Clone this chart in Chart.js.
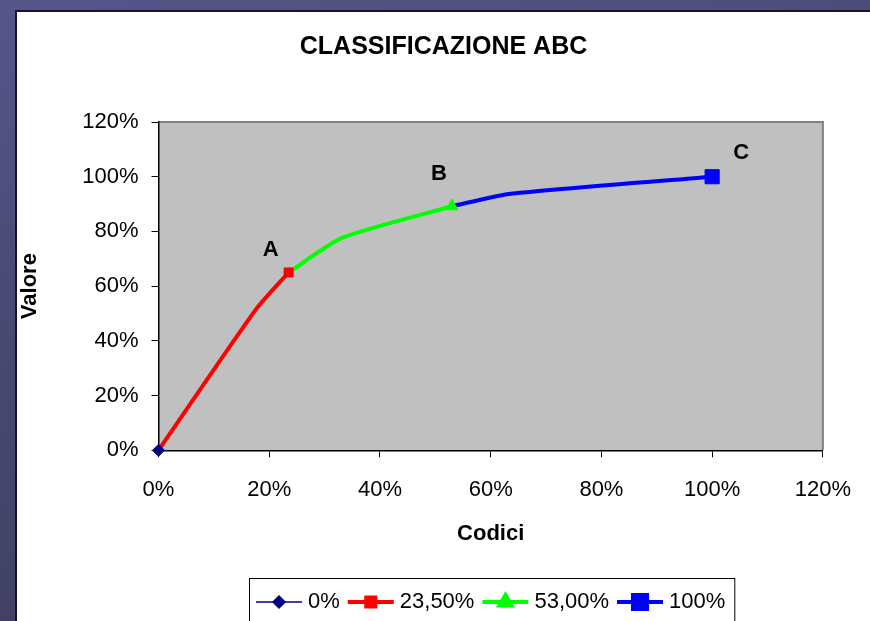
<!DOCTYPE html>
<html>
<head>
<meta charset="utf-8">
<script src="https://cdn.jsdelivr.net/npm/chart.js@4/dist/chart.umd.min.js"></script>
<style>
body { margin:0; width:870px; height:621px; overflow:hidden;
  background: linear-gradient(165deg, #56558a 0%, #48476f 45%, #3b3a5b 100%); }
#panel { position:absolute; left:15px; top:10px; width:853px; height:609px;
  border-left:2px solid #15152a; border-top:2px solid #15152a; background:#fff; }
</style>
</head>
<body>
<div id="panel"><canvas id="chart" width="853" height="609"></canvas></div>
<script>
const FONT = '"Liberation Sans", Arial, sans-serif'

const titolo = 'CLASSIFICAZIONE ABC'
const serie = ['0%', '23,50%', '53,00%', '100%']
const colori = ['#000080', '#ff0000', '#00ff00', '#0000ff']
const classi = ['A', 'B', 'C']

// codici (% cumulata) e valore (% cumulato) per ogni tratto della curva
const codici0 = [0]
const valore0 = [0]
const codiciA = [0, 17.6, 23.5]
const valoreA = [0, 51.5, 65]
const codiciB = [23.5, 33.2, 53]
const valoreB = [65, 77.7, 89.2]
const codiciC = [53, 63.3, 100]
const valoreC = [89.2, 93.7, 100]

const assiMin = 0
const assiMax = 120
const assiStep = 20

const punti = (xs, ys) => xs.map((x, i) => ({x: x, y: ys[i]}))
const tratti = [punti(codici0, valore0), punti(codiciA, valoreA), punti(codiciB, valoreB), punti(codiciC, valoreC)]
const marker = ['rectRot', 'rect', 'triangle', 'rect']
const raggi = [6, 6.4, 7, 10]
const spessori = [1.5, 4, 4, 4]

const soloUltimo = r => c => c.dataIndex === c.dataset.data.length - 1 ? r : 0

const sfondo = {
    id: 'sfondo',
    beforeDraw(chart) {
        const {ctx, chartArea: a} = chart
        ctx.save()
        ctx.fillStyle = '#c0c0c0'
        ctx.fillRect(a.left, a.top, a.right - a.left, a.bottom - a.top)
        ctx.strokeStyle = '#808080'
        ctx.lineWidth = 2
        ctx.beginPath()
        ctx.moveTo(a.left, a.top)
        ctx.lineTo(a.right, a.top)
        ctx.lineTo(a.right, a.bottom)
        ctx.stroke()
        ctx.restore()
    }
}

const scritte = {
    id: 'scritte',
    afterDraw(chart) {
        const ctx = chart.ctx
        ctx.save()
        ctx.fillStyle = '#000'
        ctx.textAlign = 'center'
        ctx.textBaseline = 'middle'
        ctx.font = 'bold 25px ' + FONT
        ctx.fillText(titolo, 426.5, 35.5)

        // lettere delle classi vicino alla fine di ogni tratto
        const spost = [[-18, -23], [-13, -32], [29, -24]]
        ctx.font = 'bold 22px ' + FONT
        classi.forEach((c, i) => {
            const meta = chart.getDatasetMeta(i + 1)
            const p = meta.data[meta.data.length - 1]
            ctx.fillText(c, p.x + spost[i][0], p.y + spost[i][1])
        })

        // legenda
        ctx.font = '22px ' + FONT
        const ds = chart.data.datasets
        const lung = 46, gap = 6, spazio = 8, padL = 7, padR = 9
        const larg = ds.map(d => ctx.measureText(d.label).width)
        const tot = padL + padR + ds.length * (lung + gap) + larg.reduce((s, w) => s + w, 0) + spazio * (ds.length - 1)
        const left = Math.round(475 - tot / 2)
        const top = 566, yc = 590
        ctx.strokeStyle = '#000'
        ctx.lineWidth = 1
        ctx.strokeRect(left + 0.5, top + 0.5, tot, 60)
        let x = left + padL
        ds.forEach((d, i) => {
            ctx.strokeStyle = d.borderColor
            ctx.lineWidth = d.borderWidth
            ctx.beginPath()
            ctx.moveTo(x, yc)
            ctx.lineTo(x + lung, yc)
            ctx.stroke()
            ctx.fillStyle = d.pointBackgroundColor
            ctx.strokeStyle = d.pointBackgroundColor
            Chart.helpers.drawPoint(ctx, {pointStyle: d.pointStyle, radius: raggi[i], rotation: 0, borderWidth: 1}, x + lung / 2, yc)
            ctx.fillStyle = '#000'
            ctx.textAlign = 'left'
            ctx.fillText(d.label, x + lung + gap, yc)
            x += lung + gap + larg[i] + spazio
        })
        ctx.restore()
    }
}

new Chart(document.querySelector('#chart'), {
    type: 'line',
    data: {
        datasets: serie.map((s, i) => ({
            label: s,
            data: tratti[i],
            borderColor: colori[i],
            backgroundColor: colori[i],
            borderWidth: spessori[i],
            pointStyle: marker[i],
            pointBackgroundColor: colori[i],
            pointBorderColor: colori[i],
            pointBorderWidth: 1,
            pointRadius: soloUltimo(raggi[i]),
            tension: 0.2,
            clip: false,
            fill: false
        }))
    },
    options: {
        responsive: false,
        animation: false,
        events: [],
        layout: {padding: {left: 0, right: 44, top: 110, bottom: 70}},
        plugins: {legend: {display: false}, title: {display: false}, tooltip: {enabled: false}},
        scales: {
            x: {
                type: 'linear',
                min: assiMin, max: assiMax,
                afterFit: s => { s.height = 100.7 },
                ticks: {stepSize: assiStep, padding: 19, color: '#000', font: {family: FONT, size: 22}, callback: v => v + '%'},
                grid: {drawOnChartArea: false, tickLength: 7, color: '#000'},
                border: {color: '#000', width: 1.5},
                title: {display: true, text: 'Codici', color: '#000', font: {family: FONT, size: 22, weight: 'bold'}}
            },
            y: {
                min: assiMin, max: assiMax,
                afterFit: s => { s.width = 141.5 },
                ticks: {stepSize: assiStep, padding: 13, color: '#000', font: {family: FONT, size: 22}, callback: v => v + '%'},
                grid: {drawOnChartArea: false, tickLength: 7, color: '#000'},
                border: {color: '#000', width: 1.5},
                title: {display: true, text: 'Valore', padding: {top: 0, bottom: 0}, color: '#000', font: {family: FONT, size: 22, weight: 'bold'}}
            }
        }
    },
    plugins: [sfondo, scritte]
})
</script>
</body>
</html>
